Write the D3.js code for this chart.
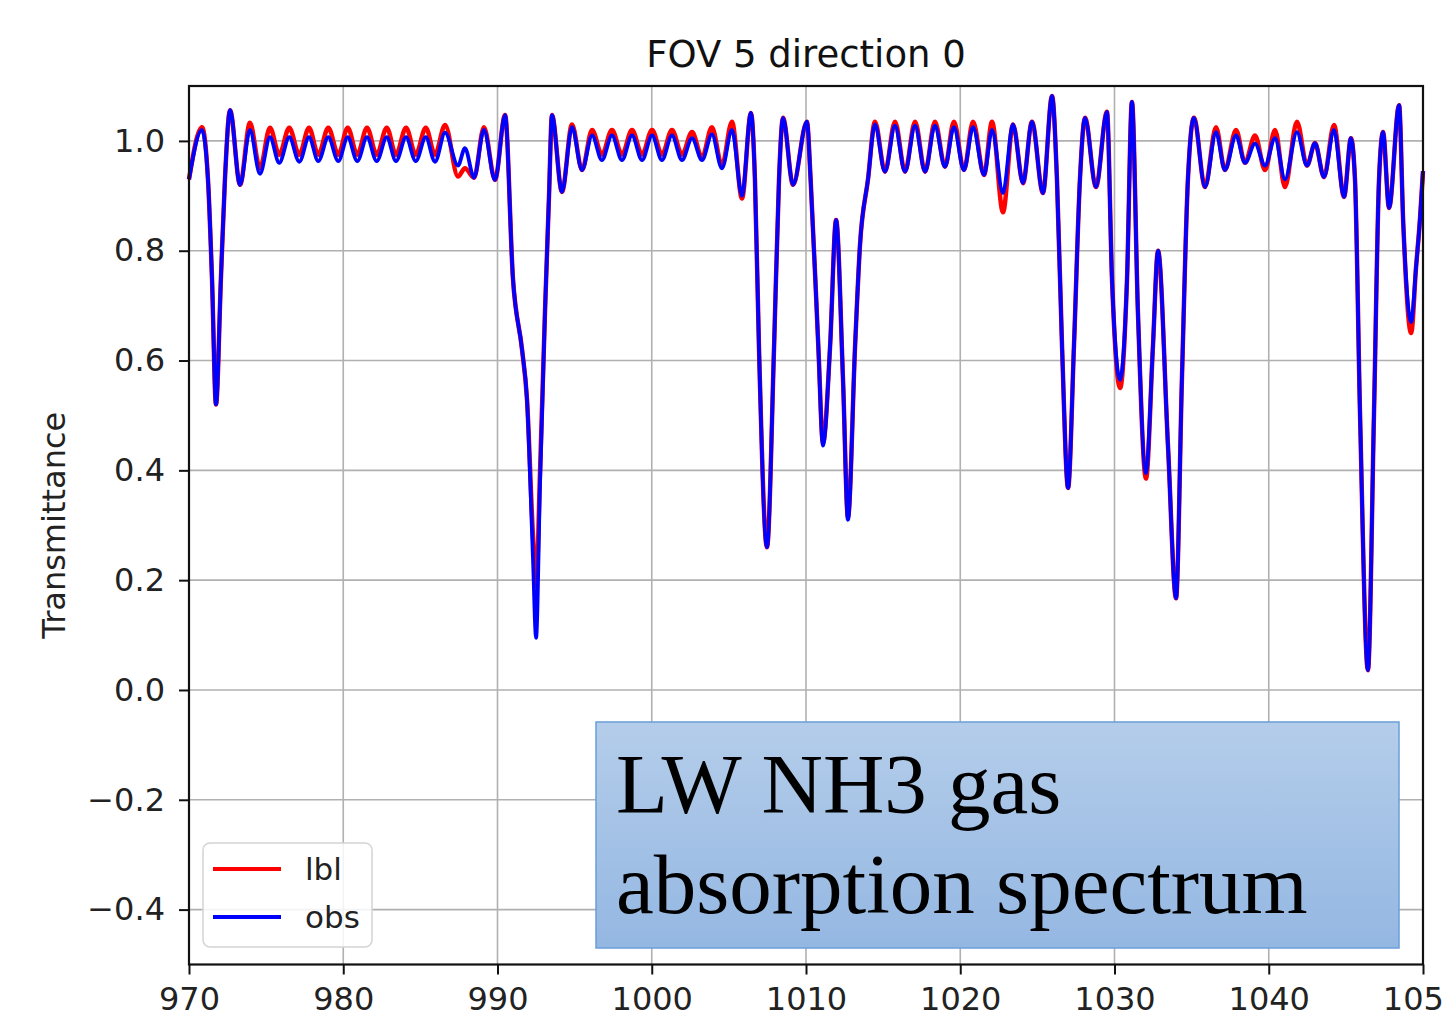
<!DOCTYPE html>
<html>
<head>
<meta charset="utf-8">
<script src="https://cdn.jsdelivr.net/npm/d3@7"></script>
<style>
    body { margin: 0; background: #fff; }
    svg text { font-family: "DejaVu Sans", sans-serif; }
</style>
</head>
<body>
<svg id="spectrum"></svg>
<script>
// wavenumber (cm-1) at peaks, troughs and dip flanks
const wavenumber = [
    970.00, 970.84, 971.23, 971.49, 971.75, 972.07, 972.33, 972.66, 973.31, 973.95,
    974.60, 975.25, 975.85, 976.50, 977.15, 977.78, 978.38, 979.03, 979.68, 980.29,
    980.91, 981.54, 982.17, 982.82, 983.42, 984.07, 984.70, 985.35, 985.95, 986.60,
    987.44, 987.89, 988.48, 989.12, 989.84, 990.49, 991.00, 991.59, 991.91, 992.30,
    992.50, 992.76, 993.08, 993.34, 993.53, 994.18, 994.83, 995.48, 996.13, 996.77,
    997.42, 998.07, 998.72, 999.37, 1000.02, 1000.66, 1001.31, 1001.96, 1002.61, 1003.26,
    1003.90, 1004.55, 1005.20, 1005.85, 1006.43, 1006.69, 1006.95, 1007.47, 1007.93, 1008.25,
    1008.51, 1009.16, 1010.06, 1010.30, 1010.80, 1011.10, 1011.56, 1011.95, 1012.40, 1012.72,
    1013.18, 1013.50, 1014.02, 1014.47, 1015.12, 1015.77, 1016.42, 1017.07, 1017.72, 1018.36,
    1019.01, 1019.59, 1020.24, 1020.83, 1021.54, 1022.06, 1022.77, 1023.42, 1024.07, 1024.65,
    1025.36, 1025.95, 1026.27, 1026.60, 1026.99, 1027.37, 1027.76, 1028.09, 1028.80, 1029.51,
    1029.84, 1030.36, 1030.81, 1031.13, 1031.52, 1032.04, 1032.49, 1032.82, 1033.47, 1033.99,
    1034.37, 1034.76, 1035.15, 1035.87, 1036.58, 1037.16, 1037.88, 1038.46, 1039.11, 1039.76,
    1040.41, 1041.05, 1041.83, 1042.48, 1043.00, 1043.58, 1044.23, 1044.88, 1045.33, 1045.59,
    1045.92, 1046.43, 1046.82, 1047.15, 1047.41, 1047.80, 1048.45, 1048.72, 1049.23, 1049.55,
    1049.81, 1050.00
];
const lblValues = [
    0.93, 1.025, 0.93, 0.75, 0.52, 0.75, 0.93, 1.056, 0.92, 1.033,
    0.95, 1.024, 0.975, 1.024, 0.975, 1.024, 0.975, 1.024, 0.975, 1.024,
    0.975, 1.024, 0.975, 1.024, 0.975, 1.024, 0.975, 1.024, 0.975, 1.029,
    0.935, 0.95, 0.933, 1.025, 0.929, 1.047, 0.75, 0.62, 0.53, 0.28,
    0.19, 0.40, 0.69, 0.90, 1.047, 0.907, 1.03, 0.947, 1.02, 0.975,
    1.02, 0.975, 1.02, 0.975, 1.02, 0.975, 1.02, 0.975, 1.016, 0.97,
    1.025, 0.955, 1.035, 0.895, 1.051, 0.93, 0.625, 0.26, 0.625, 0.93,
    1.042, 0.92, 1.035, 0.93, 0.625, 0.45, 0.625, 0.856, 0.565, 0.315,
    0.625, 0.81, 0.93, 1.035, 0.944, 1.035, 0.944, 1.035, 0.944, 1.035,
    0.953, 1.035, 0.947, 1.035, 0.938, 1.035, 0.87, 1.03, 0.923, 1.035,
    0.905, 1.082, 0.93, 0.625, 0.368, 0.625, 0.93, 1.042, 0.916, 1.053,
    0.747, 0.55, 0.747, 1.071, 0.687, 0.385, 0.625, 0.80, 0.443, 0.167,
    0.565, 0.93, 1.042, 0.916, 1.025, 0.947, 1.02, 0.96, 1.01, 0.947,
    1.02, 0.916, 1.035, 0.955, 0.996, 0.934, 1.029, 0.898, 1.005, 0.93,
    0.50, 0.036, 0.50, 0.93, 1.016, 0.878, 1.065, 0.85, 0.65, 0.77,
    0.86, 0.945
];
const obsValues = [
    0.93, 1.02, 0.93, 0.75, 0.52, 0.75, 0.93, 1.056, 0.92, 1.02,
    0.94, 1.007, 0.96, 1.007, 0.962, 1.007, 0.963, 1.007, 0.963, 1.007,
    0.963, 1.007, 0.963, 1.007, 0.963, 1.007, 0.963, 1.007, 0.962, 1.015,
    0.955, 0.987, 0.933, 1.02, 0.929, 1.047, 0.75, 0.62, 0.53, 0.24,
    0.095, 0.38, 0.69, 0.90, 1.047, 0.907, 1.025, 0.947, 1.01, 0.965,
    1.01, 0.965, 1.01, 0.965, 1.01, 0.965, 1.01, 0.965, 1.005, 0.965,
    1.012, 0.95, 1.02, 0.90, 1.051, 0.93, 0.625, 0.26, 0.625, 0.93,
    1.042, 0.92, 1.035, 0.93, 0.625, 0.445, 0.625, 0.856, 0.565, 0.31,
    0.625, 0.81, 0.93, 1.03, 0.944, 1.028, 0.944, 1.028, 0.944, 1.028,
    0.953, 1.025, 0.947, 1.025, 0.938, 1.02, 0.905, 1.03, 0.923, 1.035,
    0.905, 1.082, 0.93, 0.625, 0.368, 0.625, 0.93, 1.042, 0.916, 1.053,
    0.747, 0.565, 0.747, 1.071, 0.687, 0.395, 0.625, 0.80, 0.443, 0.167,
    0.565, 0.93, 1.042, 0.916, 1.016, 0.947, 1.01, 0.96, 0.995, 0.955,
    1.005, 0.93, 1.016, 0.955, 0.996, 0.934, 1.02, 0.898, 1.005, 0.93,
    0.50, 0.036, 0.50, 0.93, 1.016, 0.878, 1.065, 0.85, 0.67, 0.77,
    0.86, 0.945
];
const xTicks = [970, 980, 990, 1000, 1010, 1020, 1030, 1040, 1050];
const yTicks = [-0.4, -0.2, 0.0, 0.2, 0.4, 0.6, 0.8, 1.0];
const seriesNames = ["lbl", "obs"];
const seriesColors = ["#ff0000", "#0000ff"];
const chartTitle = "FOV 5 direction 0";
const yLabel = "Transmittance";
const noteLines = ["LW NH3 gas", "absorption spectrum"];

class SpectrumChart {
    constructor(svgId) {
        this.svg = d3.select('#' + svgId).attr("width", 1443).attr("height", 1017);
        this.left = 189; this.right = 1423; this.top = 86; this.bottom = 964.5;

        //scales
        this.xScale = d3.scaleLinear().domain([970, 1050]).range([this.left, this.right]);
        this.yScale = d3.scaleLinear().domain([-0.5, 1.1]).range([this.bottom, this.top]);

        this.drawGrid();
        this.drawLines();
        this.drawAxes();
        this.drawLegend();
        this.drawNote();
    }

    drawGrid() {
        let g = this.svg.append("g").attr("stroke", "#b0b0b0").attr("stroke-width", 1.6);
        g.selectAll(".vx").data(xTicks).join("line")
            .attr("x1", d => this.xScale(d)).attr("x2", d => this.xScale(d))
            .attr("y1", this.top).attr("y2", this.bottom);
        g.selectAll(".hy").data(yTicks).join("line")
            .attr("x1", this.left).attr("x2", this.right)
            .attr("y1", d => this.yScale(d)).attr("y2", d => this.yScale(d));
    }

    drawLines() {
        let series = [lblValues, obsValues].map((vals, i) => ({
            name: seriesNames[i],
            color: seriesColors[i],
            points: wavenumber.map((w, j) => [w, vals[j]])
        }));
        let line = d3.line()
            .x(d => this.xScale(d[0]))
            .y(d => this.yScale(d[1]))
            .curve(d3.curveMonotoneX);
        this.svg.append("g").selectAll("path").data(series).join("path")
            .attr("fill", "none")
            .attr("stroke", d => d.color)
            .attr("stroke-width", (d, i) => i === 0 ? 4.5 : 3.8)
            .attr("stroke-linejoin", "round")
            .attr("d", d => line(d.points));
    }

    drawAxes() {
        let fmt = d => d3.format(".1f")(d).replace("-", "\u2212");
        let xAxis = this.svg.append("g")
            .attr("transform", `translate(0,${this.bottom})`)
            .call(d3.axisBottom(this.xScale).tickValues(xTicks).tickSize(10).tickPadding(13).tickFormat(d3.format("d")));
        let yAxis = this.svg.append("g")
            .attr("transform", `translate(${this.left},0)`)
            .call(d3.axisLeft(this.yScale).tickValues(yTicks).tickSize(10).tickPadding(14).tickFormat(fmt));
        for (let ax of [xAxis, yAxis]) {
            ax.select(".domain").remove();
            ax.selectAll(".tick line").attr("stroke", "#111").attr("stroke-width", 2);
            ax.selectAll(".tick text").attr("fill", "#222").style("font-size", "32px")
                .style("font-family", "'DejaVu Sans', sans-serif");
        }

        //frame
        this.svg.append("rect")
            .attr("x", this.left).attr("y", this.top)
            .attr("width", this.right - this.left).attr("height", this.bottom - this.top)
            .attr("fill", "none").attr("stroke", "#111").attr("stroke-width", 2.2);

        this.svg.append("text")
            .attr("x", (this.left + this.right) / 2).attr("y", 67)
            .attr("text-anchor", "middle").style("font-size", "37px").attr("fill", "#111")
            .text(chartTitle);
        this.svg.append("text")
            .attr("transform", `translate(65,${(this.top + this.bottom) / 2}) rotate(-90)`)
            .attr("text-anchor", "middle").style("font-size", "32px").attr("fill", "#222")
            .text(yLabel);
    }

    drawLegend() {
        let g = this.svg.append("g").attr("transform", "translate(203,843)");
        g.append("rect").attr("width", 169).attr("height", 104).attr("rx", 7)
            .attr("fill", "#fff").attr("fill-opacity", 0.85)
            .attr("stroke", "#d4d4d4").attr("stroke-width", 1.5);
        let rows = g.selectAll(".row").data(seriesNames).join("g")
            .attr("transform", (d, i) => `translate(0,${26 + i * 48})`);
        rows.append("line").attr("x1", 10).attr("x2", 78)
            .attr("stroke", (d, i) => seriesColors[i]).attr("stroke-width", 4);
        rows.append("text").attr("x", 102).attr("dy", "0.35em")
            .style("font-size", "31px").attr("fill", "#222").text(d => d);
    }

    drawNote() {
        let defs = this.svg.append("defs");
        let grad = defs.append("linearGradient").attr("id", "noteFill")
            .attr("x1", 0).attr("y1", 0).attr("x2", 0).attr("y2", 1);
        grad.append("stop").attr("offset", "0%").attr("stop-color", "#b4cdea");
        grad.append("stop").attr("offset", "100%").attr("stop-color", "#94b7e2");
        this.svg.append("rect")
            .attr("x", 596).attr("y", 722).attr("width", 803).attr("height", 226)
            .attr("fill", "url(#noteFill)").attr("stroke", "#6a9fd8").attr("stroke-width", 1.5);
        this.svg.append("g").selectAll("text").data(noteLines).join("text")
            .attr("x", 616).attr("y", (d, i) => 813 + i * 100)
            .style("font-family", "'Liberation Serif', 'Times New Roman', serif")
            .style("font-size", "85px").attr("fill", "#000")
            .text(d => d);
    }
}

new SpectrumChart("spectrum");
</script>
</body>
</html>
